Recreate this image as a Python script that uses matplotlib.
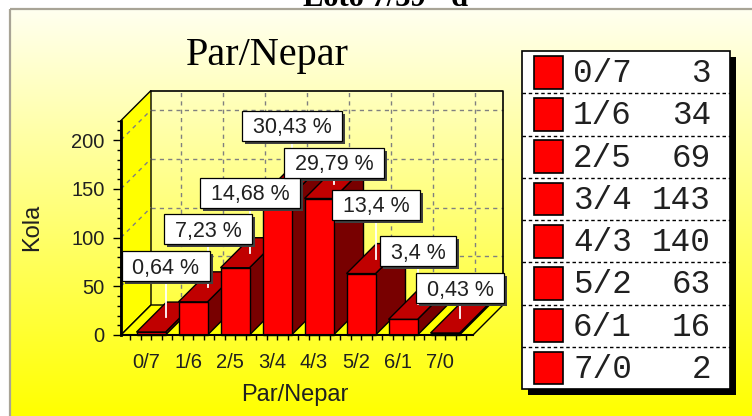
import numpy as np
import matplotlib
matplotlib.use('Agg')
import matplotlib.pyplot as plt
from matplotlib.patches import Polygon, Rectangle
from matplotlib.ticker import FixedLocator
import matplotlib.transforms as mtransforms

# ---------------- data ----------------
categories = ['0/7', '1/6', '2/5', '3/4', '4/3', '5/2', '6/1', '7/0']
counts = [3, 34, 69, 143, 140, 63, 16, 2]
percent_labels = ['0,64 %', '7,23 %', '14,68 %', '30,43 %', '29,79 %', '13,4 %', '3,4 %', '0,43 %']
y_ticks = [0, 50, 100, 150, 200]
y_max = 220
chart_title = 'Par/Nepar'
x_label = 'Par/Nepar'
y_label = 'Kola'
page_title = 'Loto 7/39 - d'

# ---------------- layout (pixels) ----------------
W, H = 752, 416
DPI = 100
PX_CAT = 42.0          # pixels per category
PX_VAL = 0.975         # pixels per value unit
DEPTH_PX = 30          # 3D depth offset
BAR_SHIFT = 5 / PX_CAT
BAR_HALF = 14.5 / PX_CAT
label_lift_px = [51, 58, 60, 55, 21, 54, 53, 30]

RED = '#FF0000'
TOP_RED = '#C00000'
SIDE_RED = '#780000'
YELLOW = '#FFFF00'
GRID = '#808080'

fig = plt.figure(figsize=(W / DPI, H / DPI), dpi=DPI)
fig.patch.set_facecolor('white')

# ---------------- background panel ----------------
bg = fig.add_axes([0, 0, 1, 1])
t = np.linspace(0, 1, 256)[:, None]
grad = np.dstack([np.ones_like(t), np.ones_like(t), 0.94 * (1 - t)])
bg.imshow(grad, extent=[10, W, H, 9], aspect='auto', interpolation='bilinear')
bg.set_xlim(0, W)
bg.set_ylim(H, 0)
bg.axis('off')
bg.plot([10, 10], [H, 9], color='#A8A496', lw=1.6, solid_capstyle='butt')
bg.plot([10, W], [9, 9], color='#A8A496', lw=1.6, solid_capstyle='butt')

bg.text(386, 6, page_title, ha='center', va='baseline', family='Liberation Serif',
        fontweight='bold', fontsize=22)
bg.text(267, 65, chart_title, ha='center', va='baseline', family='Liberation Serif', fontsize=29)

# ---------------- legend ----------------
LX, LY, LW, LH = 522, 51, 208, 338
bg.add_patch(Rectangle((LX + 6, LY + 6), LW, LH, fc='black', ec='none'))
bg.add_patch(Rectangle((LX, LY), LW, LH, fc='white', ec='black', lw=1.2))
row_h = LH / len(categories)
for i, (c, n) in enumerate(zip(categories, counts)):
    top = LY + i * row_h
    if i > 0:
        bg.plot([LX, LX + LW], [top, top], color='black', lw=1.0, linestyle=(0, (2.5, 2)))
    bg.add_patch(Rectangle((534, top + 4.8), 29, 32.7, fc=RED, ec='black', lw=1.2))
    bg.text(573, top + row_h / 2 + 10, c, ha='left', va='baseline', family='Liberation Mono',
            fontsize=23.5, color='#202020')
    bg.text(711, top + row_h / 2 + 10, str(n), ha='right', va='baseline', family='Liberation Mono',
            fontsize=23.5, color='#202020')

# ---------------- 3D bar chart ----------------
X0 = -25 / PX_CAT
XF = X0 + 352 / PX_CAT
DX = DEPTH_PX / PX_CAT
DY = DEPTH_PX / PX_VAL

ax = fig.add_axes([121 / W, (H - 335) / H, (352 + DEPTH_PX) / W, (y_max * PX_VAL + DEPTH_PX) / H])
ax.set_xlim(X0, XF + DX)
ax.set_ylim(0, y_max + DY)
ax.patch.set_visible(False)

def poly(pts, fc, z, ec='black', lw=1.0):
    p = Polygon(pts, closed=True, fc=fc, ec=ec, lw=lw, zorder=z, clip_on=False, joinstyle='miter')
    ax.add_patch(p)

# back wall grid
for v in y_ticks[1:]:
    ax.plot([X0 + DX, XF + DX], [v + DY, v + DY], color=GRID, lw=1.0, ls=(0, (3, 3)), zorder=1, clip_on=False)
for i in range(len(categories)):
    xg = i + BAR_SHIFT + DX
    ax.plot([xg, xg], [DY, y_max + DY], color=GRID, lw=1.0, ls=(0, (3, 3)), zorder=1, clip_on=False)
# back wall outline
ax.plot([X0 + DX, XF + DX, XF + DX], [y_max + DY, y_max + DY, DY], color='black', lw=1.2, zorder=1.2, clip_on=False)

# left wall
poly([(X0, 0), (X0, y_max), (X0 + DX, y_max + DY), (X0 + DX, DY)], YELLOW, 1.5)
for v in y_ticks[1:]:
    ax.plot([X0, X0 + DX], [v, v + DY], color=GRID, lw=1.0, ls=(0, (3, 3)), zorder=1.6, clip_on=False)
# floor
poly([(X0, 0), (XF, 0), (XF + DX, DY), (X0 + DX, DY)], YELLOW, 1.5)

# bars
for i, c in enumerate(counts):
    xc = i + BAR_SHIFT
    l, r = xc - BAR_HALF, xc + BAR_HALF
    z = 2 + i * 0.01
    poly([(r, 0), (r + DX, DY), (r + DX, c + DY), (r, c)], SIDE_RED, z)
    poly([(l, c), (r, c), (r + DX, c + DY), (l + DX, c + DY)], TOP_RED, z)
    poly([(l, 0), (r, 0), (r, c), (l, c)], RED, z)

# axes styling
for s in ['top', 'right']:
    ax.spines[s].set_visible(False)
ax.spines['left'].set_bounds(0, y_max)
ax.spines['left'].set_linewidth(2.0)
ax.spines['bottom'].set_bounds(X0, XF)
ax.spines['bottom'].set_linewidth(1.5)
ax.spines['left'].set_zorder(3)
ax.spines['bottom'].set_zorder(3)

ax.set_yticks(y_ticks)
ax.yaxis.set_minor_locator(FixedLocator(list(range(0, y_max + 1, 10))))
ax.tick_params(axis='y', which='major', length=5.8, width=1.0, pad=6, labelsize=14.5)
ax.tick_params(axis='y', which='minor', length=2.9, width=1.0)

ax.set_xticks(range(len(categories)))
ax.set_xticklabels(categories)
minor_x = [v for v in np.arange(BAR_SHIFT - 2 * 0.25, XF, 0.25) if v >= X0]
ax.xaxis.set_minor_locator(FixedLocator(minor_x))
ax.tick_params(axis='x', which='major', length=0, pad=13, labelsize=14.5)
ax.tick_params(axis='x', which='minor', length=3.6, width=1.0)
for lab in ax.get_xticklabels() + ax.get_yticklabels():
    lab.set_family('Liberation Sans')
    lab.set_color('#202020')

ax.set_ylabel(y_label, fontsize=17, family='Liberation Sans', color='#202020')
ax.yaxis.set_label_coords(-0.205, 0.44)
ax.set_xlabel(x_label, fontsize=17, family='Liberation Sans', color='#202020')
ax.xaxis.set_label_coords(0.455, -0.2)

# percentage labels
texts = []
for i, (c, lab) in enumerate(zip(counts, percent_labels)):
    xc = i + BAR_SHIFT + DX / 2
    yc = c + DY / 2
    yb = yc + label_lift_px[i] / PX_VAL
    tx = ax.text(xc, yb - 7.7 / PX_VAL, lab, ha='center', va='baseline', fontsize=15.5,
                 family='Liberation Sans', color='#202020', zorder=6, clip_on=False)
    texts.append((tx, xc, yc, yb))

fig.canvas.draw()
rend = fig.canvas.get_renderer()
ident = mtransforms.IdentityTransform()
for tx, xc, yc, yb in texts:
    bb = tx.get_window_extent(rend)
    px, py = ax.transData.transform((xc, yb))
    w, h = bb.width + 21, 30
    ax.add_artist(Rectangle((px - w / 2 + 3, py - h / 2 - 3), w, h, transform=ident,
                            fc='#404040', ec='none', zorder=4.5, clip_on=False))
    ax.add_artist(Rectangle((px - w / 2, py - h / 2), w, h, transform=ident,
                            fc='white', ec='black', lw=0.9, zorder=5, clip_on=False))
    ax.plot([xc, xc], [yc, yb - (h / 2) / PX_VAL], color='white', lw=1.3, zorder=4, clip_on=False)

fig.savefig('out.png', dpi=DPI)
